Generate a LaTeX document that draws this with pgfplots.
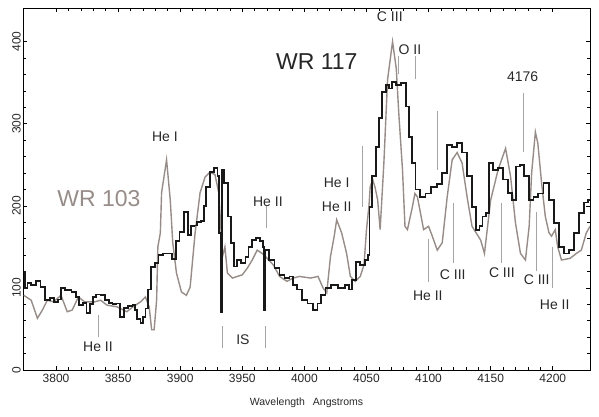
\documentclass[border=0pt]{standalone}
\usepackage{pgfplots}
\pgfplotsset{compat=1.18}
\usepackage{fontspec}
\setmainfont{Liberation Sans}
\definecolor{wrgray}{RGB}{150,140,136}
\definecolor{annline}{RGB}{165,165,165}
\definecolor{labtxt}{RGB}{40,40,40}

\pgfplotstableread{
x y
3774 120
3776 100
3778 106
3782 104
3786 108
3789 101
3793 85
3797 88
3800 83
3803 86
3805 100
3810 97
3815 95
3817 89
3820 79
3823 82
3826 69
3829 80
3830 89
3834 92
3838 91
3841 85
3844 82
3847 80
3850 81
3853 65
3856 76
3860 78
3863 79
3864 73
3867 62
3869 57
3871 65
3873 75
3875 98
3878 125
3881 130
3884 140
3888 142
3892 142
3895 135
3898 157
3901 168
3905 192
3908 164
3910 175
3912 176
3915 180
3918 182
3920 200
3922 223
3926 241
3929 246
3931 236
3932 167
3933 70
3934 244
3937 228
3940 187
3942 155
3945 126
3947 134
3951 130
3954 138
3956 150
3960 158
3962 161
3966 157
3967 150
3968 73
3969 146
3974 134
3978 124
3982 116
3986 112
3990 114
3992 104
3996 98
4000 85
4005 81
4009 73
4012 81
4015 91
4019 100
4024 104
4030 100
4035 104
4037 98
4040 110
4043 132
4047 128
4050 134
4052 140
4053 199
4056 236
4059 272
4061 307
4064 339
4067 347
4069 343
4072 351
4076 347
4080 350
4083 321
4085 284
4088 252
4091 220
4095 211
4100 215
4104 223
4109 227
4113 240
4117 274
4121 272
4125 277
4129 265
4133 236
4137 199
4140 171
4142 175
4145 187
4147 191
4150 252
4154 244
4158 246
4162 232
4166 216
4169 207
4172 248
4175 250
4179 236
4183 207
4186 211
4190 215
4195 228
4199 207
4203 179
4207 150
4211 142
4215 146
4219 167
4223 191
4227 204
4230 207
}\wrbig

\pgfplotstableread{
x y
3774 91
3780 85
3785 63
3789 73
3793 85
3798 83
3804 91
3809 71
3813 73
3818 89
3823 83
3831 83
3836 85
3841 79
3849 77
3857 71
3862 77
3868 83
3872 89
3875 77
3877 49
3879 49
3881 85
3882 150
3884 167
3885 216
3889 256
3892 207
3894 155
3897 118
3901 95
3905 91
3908 101
3912 167
3916 216
3920 235
3924 241
3928 238
3931 216
3933 167
3934 138
3936 150
3938 118
3942 112
3946 114
3950 116
3954 124
3958 134
3962 146
3966 142
3970 136
3975 128
3980 114
3986 108
3991 112
3996 114
4005 112
4011 114
4015 100
4018 94
4021 138
4024 163
4026 183
4030 167
4034 142
4037 114
4041 108
4045 114
4048 128
4050 171
4052 200
4053 223
4055 232
4057 222
4059 207
4061 171
4064 252
4067 354
4071 400
4074 367
4076 313
4079 244
4081 175
4083 171
4087 199
4089 215
4091 211
4096 171
4100 175
4103 163
4107 146
4111 155
4115 211
4119 256
4123 265
4127 252
4131 211
4135 175
4140 163
4142 158
4145 142
4150 207
4156 244
4162 270
4166 236
4170 179
4174 142
4178 134
4181 175
4183 240
4186 290
4188 276
4191 228
4194 187
4197 167
4199 163
4202 171
4204 150
4207 134
4214 136
4219 142
4223 146
4227 167
4230 175
}\wrsmall

\begin{document}
\begin{tikzpicture}
\useasboundingbox (-23pt,-47pt) rectangle (576pt,370pt);
\begin{axis}[
    at={(0,0)}, anchor=south west,
    scale only axis,
    width=567pt, height=362pt,
    xmin=3773.4, xmax=4230,
    ymin=0, ymax=441,
    xtick={3800,3850,...,4200},
    ytick={0,100,...,400},
    minor x tick num=4,
    minor y tick num=4,
    major tick length=4pt,
    minor tick length=3pt,
    tick style={black, line width=0.6pt},
    axis line style={line width=0.8pt},
    /pgf/number format/assume math mode=true,
    /pgf/number format/1000 sep={},
    ticklabel style={font=\fontsize{12}{12}\selectfont, text=labtxt},
    xticklabel style={yshift=-1pt},
    yticklabel style={rotate=90, anchor=south, inner sep=2pt},
    xlabel={Wavelength\hspace{8pt}Angstroms},
    xlabel style={font=\fontsize{10.5}{10.5}\selectfont, text=labtxt, yshift=-8pt},
    clip=true,
]
\addplot[wrgray, line width=1.4pt] table[x=x,y=y] {\wrsmall};
\addplot[black!90, line width=1.8pt, const plot mark mid] table[x=x,y=y] {\wrbig};

% line identifications
\begin{scope}[annline, line width=0.7pt]
\draw (axis cs:3834,40) -- (axis cs:3834,67);
\draw (axis cs:3933.7,27) -- (axis cs:3933.7,54);
\draw (axis cs:3968.5,27) -- (axis cs:3968.5,54);
\draw (axis cs:3969,173) -- (axis cs:3969,200);
\draw (axis cs:4047,199) -- (axis cs:4047,273);
\draw (axis cs:4076,360) -- (axis cs:4076,382);
\draw (axis cs:4089.7,354) -- (axis cs:4089.7,382);
\draw (axis cs:4107.4,244) -- (axis cs:4107.4,315);
\draw (axis cs:4176,266) -- (axis cs:4176,338);
\draw (axis cs:4100,107) -- (axis cs:4100,159);
\draw (axis cs:4120,130) -- (axis cs:4120,204);
\draw (axis cs:4159,130) -- (axis cs:4159,204);
\draw (axis cs:4187,120) -- (axis cs:4187,192);
\draw (axis cs:4200,100) -- (axis cs:4200,150);
\end{scope}

\begin{scope}[every node/.style={font=\fontsize{14}{14}\selectfont, text=labtxt, inner sep=0pt}]
\node at (axis cs:3887.7,284) {He I};
\node at (axis cs:3970.6,205) {He II};
\node at (axis cs:3833.8,28) {He II};
\node at (axis cs:3950.5,37) {IS};
\node at (axis cs:4026,228) {He I};
\node at (axis cs:4026,199) {He II};
\node at (axis cs:4068.8,430) {C III};
\node at (axis cs:4085,390) {O II};
\node at (axis cs:4175.8,357) {4176};
\node at (axis cs:4099.4,91) {He II};
\node at (axis cs:4119.5,116) {C III};
\node at (axis cs:4159,118) {C III};
\node at (axis cs:4187,110) {C III};
\node at (axis cs:4201.6,80) {He II};
\end{scope}

\node[font=\fontsize{23}{23}\selectfont, text=black!85, inner sep=0pt] at (axis cs:4010,376) {WR 117};
\node[font=\fontsize{23}{23}\selectfont, text=wrgray, inner sep=0pt] at (axis cs:3834.6,208.5) {WR 103};
\end{axis}
\end{tikzpicture}
\end{document}
